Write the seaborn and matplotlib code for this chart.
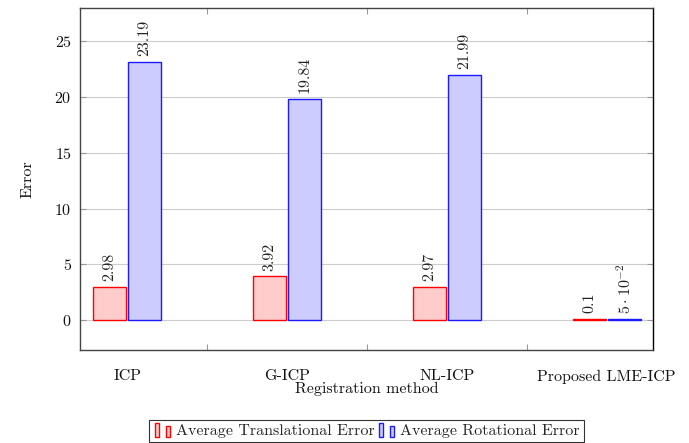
import matplotlib
matplotlib.use("Agg")
import matplotlib.pyplot as plt
import seaborn as sns
import pandas as pd
from matplotlib.patches import Rectangle
from matplotlib.legend_handler import HandlerBase

methods = ["ICP", "G-ICP", "NL-ICP", "Proposed LME-ICP"]
translational = [2.98, 3.92, 2.97, 0.1]
rotational = [23.19, 19.84, 21.99, 0.05]
trans_labels = ["2.98", "3.92", "2.97", "0.1"]
rot_labels = ["23.19", "19.84", "21.99", r"$5\cdot10^{-2}$"]
series = ["Average Translational Error", "Average Rotational Error"]

df = pd.DataFrame({
    "method": methods * 2,
    "value": translational + rotational,
    "series": [series[0]] * 4 + [series[1]] * 4,
})

sns.set_theme(style="white")
plt.rcParams["font.family"] = ["cmr10", "DejaVu Serif"]
plt.rcParams["mathtext.fontset"] = "cm"
plt.rcParams["axes.formatter.use_mathtext"] = True

FS = 11.5
edge = {series[0]: "#ff0000", series[1]: "#1a1aff"}
fill = {series[0]: "#ffcccc", series[1]: "#ccccff"}

fig = plt.figure(figsize=(6.89, 4.43), dpi=100)
ax = fig.add_axes([80 / 689, 1 - 350 / 443, (653 - 80) / 689, (350 - 8) / 443])

sns.barplot(data=df, x="method", y="value", hue="series", order=methods,
            hue_order=series, palette=fill, saturation=1, width=0.438, gap=0.06,
            edgecolor="none", linewidth=0, ax=ax, legend=False)

for cont, s, labs in zip(ax.containers, series, [trans_labels, rot_labels]):
    for p in cont:
        p.set_edgecolor(edge[s])
        p.set_linewidth(1.0)
    ax.bar_label(cont, labels=labs, rotation=90, padding=4, fontsize=FS,
                 color="#222222")

ax.set_xlim(-0.295, 3.29)
ax.set_ylim(-2.7, 28)
ax.set_yticks([0, 5, 10, 15, 20, 25])
ax.set_xticks(range(4))
ax.set_xticklabels(methods)
ax.set_xticks([0.5, 1.5, 2.5], minor=True)
ax.tick_params(axis="x", which="major", length=0, pad=14, labelsize=FS,
               labelcolor="#111111")
ax.tick_params(axis="x", which="minor", length=4, direction="in", top=True,
               bottom=True, color="#999999", width=0.8)
ax.tick_params(axis="y", which="major", length=4, direction="in", left=True,
               right=True, color="#999999", width=0.8, labelsize=FS,
               labelcolor="#111111", pad=6)
ax.yaxis.grid(True, color="#cccccc", linewidth=0.8)
ax.set_axisbelow(True)
for sp in ax.spines.values():
    sp.set_visible(True)
    sp.set_color("#444444")
    sp.set_linewidth(1.0)
ax.spines["right"].set_color("#000000")

ax.set_xlabel("Registration method", fontsize=FS, labelpad=-1, color="#111111")
ax.set_ylabel("Error", fontsize=FS, labelpad=14, color="#111111")


class TwoBars(HandlerBase):
    def __init__(self, ec, fc):
        super().__init__()
        self.ec = ec
        self.fc = fc

    def create_artists(self, legend, orig_handle, xdescent, ydescent, width,
                       height, fontsize, trans):
        bw = width * 0.2
        r1 = Rectangle((-xdescent + width * 0.08, -ydescent - height * 0.15), bw,
                       height * 1.25, facecolor=self.fc, edgecolor=self.ec,
                       lw=1.0, transform=trans)
        r2 = Rectangle((-xdescent + width * 0.6, -ydescent - height * 0.15), bw,
                       height * 0.95, facecolor=self.fc, edgecolor=self.ec,
                       lw=1.0, transform=trans)
        return [r1, r2]


h1 = Rectangle((0, 0), 1, 1)
h2 = Rectangle((0, 0), 1, 1)
leg = fig.legend([h1, h2], series, loc="center",
                 bbox_to_anchor=(366.5 / 689, 1 - 431 / 443),
                 ncol=2, frameon=True, fancybox=False, fontsize=FS,
                 handlelength=1.3, handletextpad=0.1, columnspacing=0.2,
                 borderpad=0.25, borderaxespad=0,
                 handler_map={h1: TwoBars(edge[series[0]], fill[series[0]]),
                              h2: TwoBars(edge[series[1]], fill[series[1]])})
leg.get_frame().set_edgecolor("#000000")
leg.get_frame().set_linewidth(0.8)

fig.savefig("out.png", dpi=100)
